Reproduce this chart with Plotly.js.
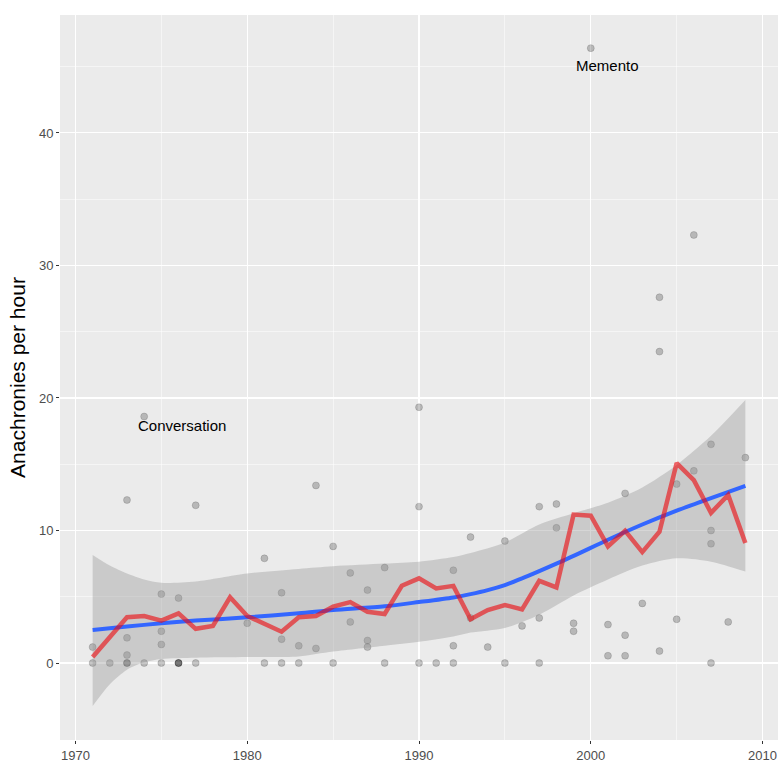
<!DOCTYPE html>
<html>
<head>
<meta charset="utf-8">
<script src="https://cdn.plot.ly/plotly-3.0.1.min.js"></script>
<style>
  html, body { margin: 0; padding: 0; background: #ffffff; }
  #chart { width: 778px; height: 763px; }
</style>
</head>
<body>
<div id="chart"></div>
<script>
// Individual films: release year and anachronies per hour
const pointYears = [
  1971, 1971,
  1972,
  1973, 1973, 1973, 1973, 1973,
  1974, 1974,
  1975, 1975, 1975, 1975,
  1976, 1976, 1976, 1976,
  1977, 1977,
  1980,
  1981, 1981,
  1982, 1982, 1982,
  1983, 1983,
  1984, 1984,
  1985, 1985,
  1986, 1986,
  1987, 1987, 1987,
  1988, 1988,
  1990, 1990, 1990,
  1991,
  1992, 1992, 1992,
  1993, 1993,
  1994,
  1995, 1995,
  1996,
  1997, 1997, 1997,
  1998, 1998,
  1999, 1999,
  2000,
  2001, 2001,
  2002, 2002, 2002,
  2003,
  2004, 2004, 2004,
  2005, 2005,
  2006, 2006,
  2007, 2007, 2007, 2007,
  2008,
  2009
];
const pointValues = [
  0, 1.2,
  0,
  0, 0, 0.6, 1.9, 12.3,
  0, 18.6,
  0, 1.4, 2.4, 5.2,
  0, 0, 0, 4.9,
  0, 11.9,
  3.0,
  0, 7.9,
  0, 1.8, 5.3,
  0, 1.3,
  1.1, 13.4,
  0, 8.8,
  3.1, 6.8,
  1.2, 1.7, 5.5,
  0, 7.2,
  0, 11.8, 19.3,
  0,
  0, 1.3, 7.0,
  3.4, 9.5,
  1.2,
  0, 9.2,
  2.8,
  0, 3.4, 11.8,
  10.2, 12.0,
  2.4, 3.0,
  46.4,
  0.55, 2.9,
  0.55, 2.1, 12.8,
  4.5,
  0.9, 23.5, 27.6,
  3.3, 13.5,
  14.5, 32.3,
  0, 9.0, 10.0, 16.5,
  3.1,
  15.5
];

// Yearly summary line (red)
const meanYears = [1971,1972,1973,1974,1975,1976,1977,1978,1979,1980,1981,1982,1983,1984,1985,1986,1987,1988,1989,1990,
                   1991,1992,1993,1994,1995,1996,1997,1998,1999,2000,2001,2002,2003,2004,2005,2006,2007,2008,2009];
const meanValues = [0.45,1.95,3.45,3.55,3.2,3.75,2.58,2.8,4.96,3.55,3.0,2.36,3.45,3.55,4.25,4.6,3.87,3.7,5.83,6.39,
                    5.63,5.82,3.3,4.0,4.38,4.05,6.2,5.7,11.2,11.12,8.8,9.98,8.37,9.9,15.08,13.8,11.33,12.69,9.05];

// Smoothed trend (blue) with confidence band (grey)
const smoothYears = [1971,1973,1975,1977,1980,1983,1985,1988,1990,1992,1993,1994,1995,1996,1997,1998,1999,2001,2003,2005,2007,2009];
const smoothFit   = [2.49,2.75,3.0,3.2,3.45,3.75,4.0,4.28,4.6,4.95,5.2,5.5,5.88,6.38,6.93,7.5,8.08,9.3,10.45,11.5,12.45,13.36];
const bandYears = [1971,1972,1973,1974,1975,1977,1980,1983,1985,1988,1990,1992,1993,1995,1997,1999,2001,2003,2005,2007,2009];
const bandUpper = [8.15,7.35,6.75,6.3,6.05,6.15,6.75,7.1,7.3,7.5,7.65,8.0,8.3,9.1,10.45,11.3,12.1,13.25,14.95,17.15,19.85];
const bandLower = [-3.25,-1.6,-0.5,0.05,0.3,0.4,0.45,0.5,0.86,1.3,1.6,2.0,2.3,2.65,3.65,5.1,6.3,7.35,7.9,7.65,6.9];

// Labelled films
const labelText = ["Memento", "Conversation"];
const labelX = [2001.0, 1976.2];
const labelY = [45.1, 17.95];

const traces = [
  {
    x: pointYears, y: pointValues, type: 'scatter', mode: 'markers',
    marker: { size: 7, color: 'rgba(0,0,0,0.22)', line: { width: 0.8, color: 'rgba(0,0,0,0.18)' } },
    hoverinfo: 'x+y', showlegend: false
  },
  {
    x: bandYears, y: bandLower, type: 'scatter', mode: 'lines',
    line: { width: 0, shape: 'spline', smoothing: 0.8 }, hoverinfo: 'skip', showlegend: false
  },
  {
    x: bandYears, y: bandUpper, type: 'scatter', mode: 'lines',
    line: { width: 0, shape: 'spline', smoothing: 0.8 }, fill: 'tonexty',
    fillcolor: 'rgba(153,153,153,0.4)', hoverinfo: 'skip', showlegend: false
  },
  {
    x: smoothYears, y: smoothFit, type: 'scatter', mode: 'lines',
    line: { color: '#3366FF', width: 4, shape: 'spline', smoothing: 0.8 }, showlegend: false
  },
  {
    x: meanYears, y: meanValues, type: 'scatter', mode: 'lines',
    line: { color: 'rgba(235,12,16,0.62)', width: 4.5 }, showlegend: false
  }
];

const annotations = labelText.map((t, i) => ({
  x: labelX[i], y: labelY[i], xref: 'x', yref: 'y', text: t, showarrow: false,
  xanchor: 'center', yanchor: 'middle',
  font: { family: 'Liberation Sans, Arial, sans-serif', size: 15, color: '#000000' }
}));

const layout = {
  width: 778, height: 763,
  margin: { l: 60, r: 0, t: 15, b: 23, pad: 0 },
  paper_bgcolor: '#ffffff',
  plot_bgcolor: '#ebebeb',
  font: { family: 'Liberation Sans, Arial, sans-serif' },
  showlegend: false,
  xaxis: {
    range: [1969.1, 2010.9],
    tickvals: [1970, 1980, 1990, 2000, 2010],
    ticktext: ['1970', '1980', '1990', '2000', '2010'],
    showgrid: true, gridcolor: '#ffffff', gridwidth: 1.1,
    minor: { tickvals: [1975, 1985, 1995, 2005], showgrid: true, gridcolor: '#ffffff', gridwidth: 0.5, ticks: '' },
    zeroline: false, showline: false,
    ticks: 'outside', ticklen: 3, tickwidth: 1, tickcolor: '#333333',
    tickfont: { size: 13, color: '#4d4d4d' },
    automargin: false
  },
  yaxis: {
    range: [-5.81, 48.9],
    tickvals: [0, 10, 20, 30, 40],
    ticktext: ['0', '10', '20', '30', '40'],
    showgrid: true, gridcolor: '#ffffff', gridwidth: 1.1,
    minor: { tickvals: [5, 15, 25, 35, 45], showgrid: true, gridcolor: '#ffffff', gridwidth: 0.5, ticks: '' },
    zeroline: false, showline: false,
    ticks: 'outside', ticklen: 3, tickwidth: 1, tickcolor: '#333333',
    tickfont: { size: 13, color: '#4d4d4d' },
    title: { text: 'Anachronies per hour', font: { size: 21, color: '#000000' }, standoff: 7 },
    automargin: false
  },
  annotations: annotations
};

Plotly.newPlot('chart', traces, layout, { displayModeBar: false, staticPlot: true });
</script>
</body>
</html>
